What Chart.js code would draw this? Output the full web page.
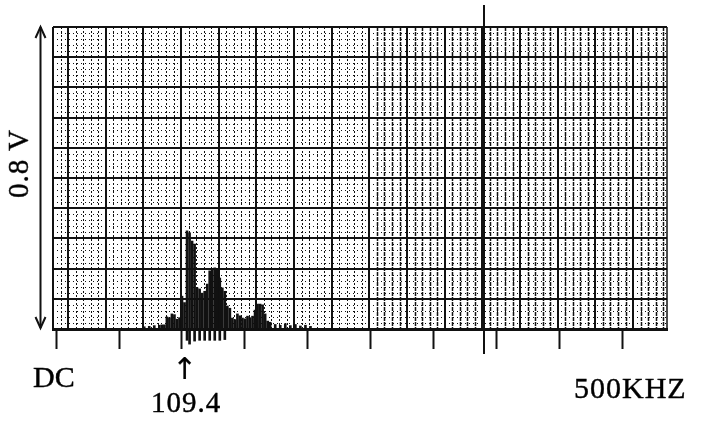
<!DOCTYPE html>
<html>
<head>
<meta charset="utf-8">
<script src="https://cdn.jsdelivr.net/npm/chart.js@4/dist/chart.umd.min.js"></script>
<style>
  body { margin: 0; background: #fff; }
  #wrap { position: relative; width: 713px; height: 421px; }
  #wrap canvas { position: absolute; left: 0; top: 0; }
  .lbl { position: absolute; font-family: "Liberation Serif", "DejaVu Serif", serif; color: #000; white-space: nowrap; line-height: 1; -webkit-text-stroke: 0.4px #000; }
</style>
</head>
<body>
<div id="wrap">
  <canvas id="spec" width="713" height="421"></canvas>
  <div class="lbl" id="lblV" style="font-size:29px; left:-16px; top:149px; transform: rotate(-90deg); letter-spacing:1px;">0.8 V</div>
  <div class="lbl" style="font-size:30px; left:33px; top:362px;">DC</div>
  <div class="lbl" style="font-family:'DejaVu Sans'; font-size:30px; left:172px; top:354px; -webkit-text-stroke: 0.2px #000;">↑</div>
  <div class="lbl" style="font-size:29px; left:151px; top:388px; letter-spacing:1px;">109.4</div>
  <div class="lbl" style="font-size:30px; left:574px; top:373px; letter-spacing:1px;">500KHZ</div>
</div>
<script>
// ====== spectrum lines (kHz, volts) ======
const freqKHz = [
    70, 74, 78, 82,
    84, 86, 88, 90, 92, 94, 96, 98, 100, 102, 104, 106, 108, 110, 112, 114,
    116, 118, 120, 122, 124, 126, 128, 130, 132, 134, 136, 138, 140, 142,
    144, 146, 148, 150, 152, 154, 156, 158, 160, 162, 164, 166, 168, 170,
    174, 178, 182, 186, 190, 194, 198, 202
];
const levelV = [
    0.006, 0.007, 0.009, 0.010,
    0.011, 0.011, 0.032, 0.030, 0.040, 0.038, 0.026, 0.030, 0.087, 0.070, 0.260, 0.255, 0.233, 0.225, 0.109, 0.106,
    0.095, 0.100, 0.119, 0.154, 0.160, 0.162, 0.158, 0.135, 0.109, 0.100, 0.061, 0.055, 0.029, 0.025,
    0.040, 0.035, 0.029, 0.027, 0.034, 0.030, 0.034, 0.050, 0.066, 0.066, 0.064, 0.040, 0.021, 0.018,
    0.012, 0.010, 0.014, 0.009, 0.012, 0.008, 0.010, 0.007
];
// lines that run on below the base line in the scan
const floorV = [
    0, 0, 0, 0,
    0, 0, 0, 0, 0, 0, 0, 0, 0, 0, -0.030, -0.040, 0, -0.032, 0, -0.030,
    0, -0.030, 0, -0.030, 0, -0.030, 0, -0.030, 0, -0.028, 0, 0, 0, 0,
    0, 0, 0, 0, 0, 0, 0, 0, 0, 0, 0, 0, 0, 0,
    0, 0, 0, 0, 0, 0, 0, 0
];

const tickKHz   = [0, 50, 100, 150, 200, 250, 300, 350, 400, 450];
const markerKHz = 340;        // tall cursor line
const fullScaleV = 0.8;

// grid paper: 10 rows, about 16 columns
const gridRows = 10;
const gridColMin = -0.4;
const gridColMax = 15.9;
const darkFrom = 7.8;         // the right half of the scan prints its columns much darker

// ======= grid paper, cursor and level arrow =======
const paperPlugin = {
    id: "paper",
    beforeDatasetsDraw(chart) {
        const { ctx, chartArea: a } = chart;
        const xg = chart.scales.xg;
        const y = chart.scales.y;
        ctx.save();
        ctx.strokeStyle = "#111";

        // minor dotted columns
        for (let k = Math.ceil(gridColMin * 5); k <= gridColMax * 5; k++) {
            if (k % 5 === 0) continue;
            const dark = k / 5 > darkFrom;
            ctx.lineWidth = dark ? 1.5 : 1;
            ctx.setLineDash(dark ? [4, 1] : [2, 2]);
            const px = Math.round(xg.getPixelForValue(k / 5)) + 0.5;
            ctx.beginPath(); ctx.moveTo(px, a.top); ctx.lineTo(px, a.bottom); ctx.stroke();
        }
        // minor dotted rows
        ctx.lineWidth = 1;
        ctx.setLineDash([1, 3]);
        const step = fullScaleV / gridRows;
        for (let k = 1; k < gridRows * 5; k++) {
            if (k % 5 === 0) continue;
            const py = Math.round(y.getPixelForValue(k * step / 5)) + 0.5;
            ctx.beginPath(); ctx.moveTo(a.left, py); ctx.lineTo(a.right, py); ctx.stroke();
        }
        // major lines
        ctx.setLineDash([]);
        ctx.lineWidth = 2;
        for (let k = 0; k <= Math.floor(gridColMax); k++) {
            const px = Math.round(xg.getPixelForValue(k));
            ctx.beginPath(); ctx.moveTo(px, a.top); ctx.lineTo(px, a.bottom); ctx.stroke();
        }
        for (let k = 1; k <= gridRows; k++) {
            const py = Math.round(y.getPixelForValue(k * step));
            ctx.beginPath(); ctx.moveTo(a.left, py); ctx.lineTo(a.right, py); ctx.stroke();
        }
        // frame
        ctx.beginPath(); ctx.moveTo(a.left, a.top); ctx.lineTo(a.left, a.bottom); ctx.stroke();
        ctx.lineWidth = 1.5;
        ctx.beginPath(); ctx.moveTo(a.right, a.top); ctx.lineTo(a.right, a.bottom); ctx.stroke();
        ctx.restore();
    },
    afterDraw(chart) {
        const { ctx, chartArea: a } = chart;
        const x = chart.scales.x;
        ctx.save();
        ctx.strokeStyle = "#111";
        // cursor line
        const mx = Math.round(x.getPixelForValue(markerKHz));
        ctx.lineWidth = 2;
        ctx.beginPath(); ctx.moveTo(mx, 5); ctx.lineTo(mx, a.bottom + 25); ctx.stroke();
        // double arrow for the 0.8 V range
        const ax = 40.5;
        ctx.lineWidth = 2;
        ctx.beginPath(); ctx.moveTo(ax, a.top); ctx.lineTo(ax, a.bottom - 1); ctx.stroke();
        ctx.beginPath();
        ctx.moveTo(ax - 5, a.top + 11); ctx.lineTo(ax, a.top); ctx.lineTo(ax + 5, a.top + 11);
        ctx.moveTo(ax - 5, a.bottom - 12); ctx.lineTo(ax, a.bottom - 1); ctx.lineTo(ax + 5, a.bottom - 12);
        ctx.stroke();
        ctx.restore();
    }
};

document.addEventListener("DOMContentLoaded", () => {
    const points = freqKHz.map((f, i) => ({ x: f, y: [floorV[i], levelV[i]] }));

    new Chart(document.getElementById("spec"), {
        type: "bar",
        data: {
            datasets: [{
                label: "Spectrum",
                data: points,
                backgroundColor: "#111",
                borderWidth: 0,
                barThickness: 2,
                grouped: false,
                clip: false
            }]
        },
        options: {
            responsive: false,
            animation: false,
            events: [],
            layout: { padding: { left: 53, right: 46, top: 27, bottom: 72 } },
            plugins: { legend: { display: false }, tooltip: { enabled: false } },
            scales: {
                x: {
                    type: "linear",
                    offset: false,
                    min: -2.4,
                    max: 485,
                    afterBuildTicks: (s) => { s.ticks = tickKHz.map(v => ({ value: v })); },
                    afterFit: (s) => { s.height = 20; },
                    ticks: { display: false },
                    grid: {
                        offset: false,
                        drawOnChartArea: false,
                        drawTicks: true,
                        tickLength: 20,
                        tickColor: "#111",
                        tickWidth: 2
                    },
                    border: { display: true, color: "#111", width: 3 }
                },
                xg: {
                    type: "linear",
                    axis: "x",
                    display: false,
                    offset: false,
                    grid: { offset: false },
                    min: gridColMin,
                    max: gridColMax
                },
                y: {
                    display: false,
                    min: 0,
                    max: fullScaleV
                }
            }
        },
        plugins: [paperPlugin]
    });
});
</script>
</body>
</html>
